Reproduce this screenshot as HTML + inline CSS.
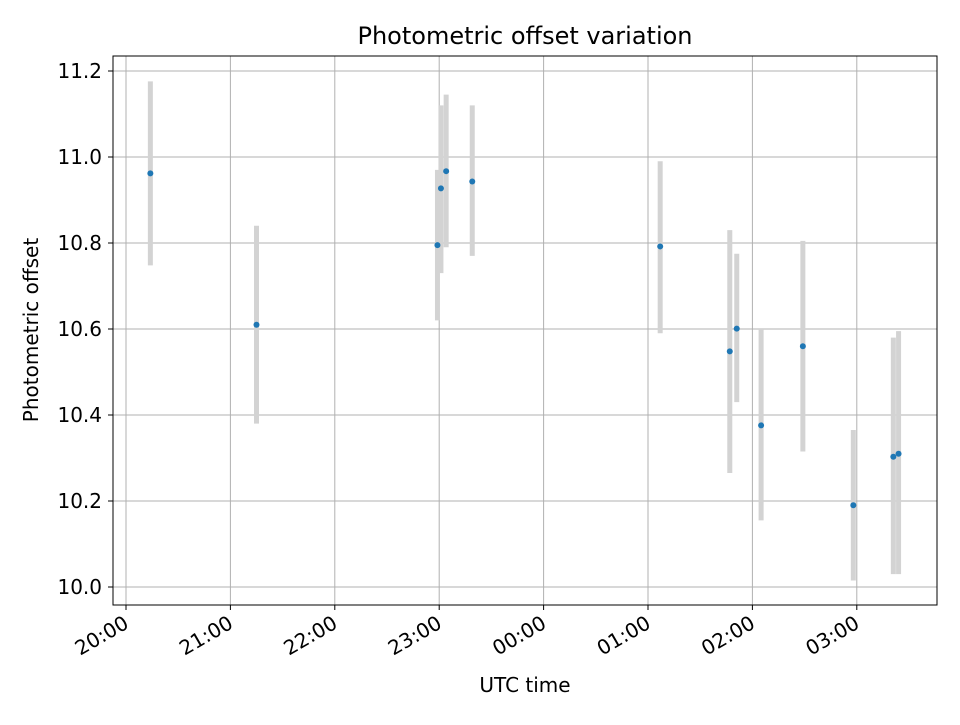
<!DOCTYPE html>
<html><head><meta charset="utf-8"><style>
body{margin:0;background:#fff;font-family:"Liberation Sans","DejaVu Sans",sans-serif}
</style></head><body>
<svg id="chart" width="960" height="720" xmlns="http://www.w3.org/2000/svg" font-family="DejaVu Sans, Liberation Sans, sans-serif">
<rect width="960" height="720" fill="#fff"/>
<g id="grid"></g>
<g id="errs"></g>
<g id="pts"></g>
<rect x="113" y="56" width="824" height="549" fill="none" stroke="#000" stroke-width="1"/>
<g id="ticks"></g>
<text x="525" y="44" text-anchor="middle" font-size="24">Photometric offset variation</text>
<text x="525" y="692" text-anchor="middle" font-size="20">UTC time</text>
<text transform="translate(38,330) rotate(-90)" text-anchor="middle" font-size="20">Photometric offset</text>
</svg>
<script>
// minutes after 20:00
const times=[14,75,179,181,184,199,307,347,351,365,389,418,441,444];
const values=[10.962,10.61,10.795,10.927,10.967,10.943,10.792,10.548,10.601,10.376,10.56,10.19,10.303,10.31];
const errLow=[10.748,10.38,10.62,10.73,10.79,10.77,10.59,10.265,10.43,10.155,10.315,10.015,10.03,10.03];
const errHigh=[11.176,10.84,10.97,11.12,11.145,11.12,10.99,10.83,10.775,10.60,10.805,10.365,10.58,10.595];
const yTicks=[10.0,10.2,10.4,10.6,10.8,11.0,11.2];
const xTickLabels=["20:00","21:00","22:00","23:00","00:00","01:00","02:00","03:00"];
const xTickMinutes=[0,60,120,180,240,300,360,420];
const NS="http://www.w3.org/2000/svg";
function X(m){return 126+m*(104.4/60);}
function Y(v){return 587-(v-10)*430;}
function mk(tag,attrs,parent){const e=document.createElementNS(NS,tag);for(const k in attrs)e.setAttribute(k,attrs[k]);document.getElementById(parent).appendChild(e);return e;}
yTicks.forEach(v=>{
  const g=mk('line',{x1:113,x2:937,y1:Y(v),y2:Y(v),stroke:'#b0b0b0','stroke-width':1},'grid');
  
  
  const t=mk('line',{x1:108,x2:113,y1:Y(v),y2:Y(v),stroke:'#000'},'ticks');
  
  
  const l=mk('text',{x:102,y:Y(v)+7,'text-anchor':'end','font-size':20},'ticks');
  l.textContent=v.toFixed(1);
  
  
});
xTickMinutes.forEach((m,i)=>{
  const x=X(m);
  const g=mk('line',{x1:x,x2:x,y1:56,y2:605,stroke:'#b0b0b0','stroke-width':1},'grid');
  
  
  const t=mk('line',{x1:x,x2:x,y1:605,y2:610,stroke:'#000'},'ticks');
  
  
  const l=mk('text',{transform:`translate(${x+4},${627}) rotate(-30)`,'text-anchor':'end','font-size':20},'ticks');
  l.textContent=xTickLabels[i];
  
  
});
times.forEach((m,i)=>{
  const x=X(m);
  const e=mk('line',{x1:x,x2:x,y1:Y(errLow[i]),y2:Y(errHigh[i]),stroke:'#d3d3d3','stroke-width':5},'errs');
  
  
  const p=mk('circle',{cx:x,cy:Y(values[i]),r:3,fill:'#1f77b4'},'pts');
  
  
});
</script>
</body></html>
